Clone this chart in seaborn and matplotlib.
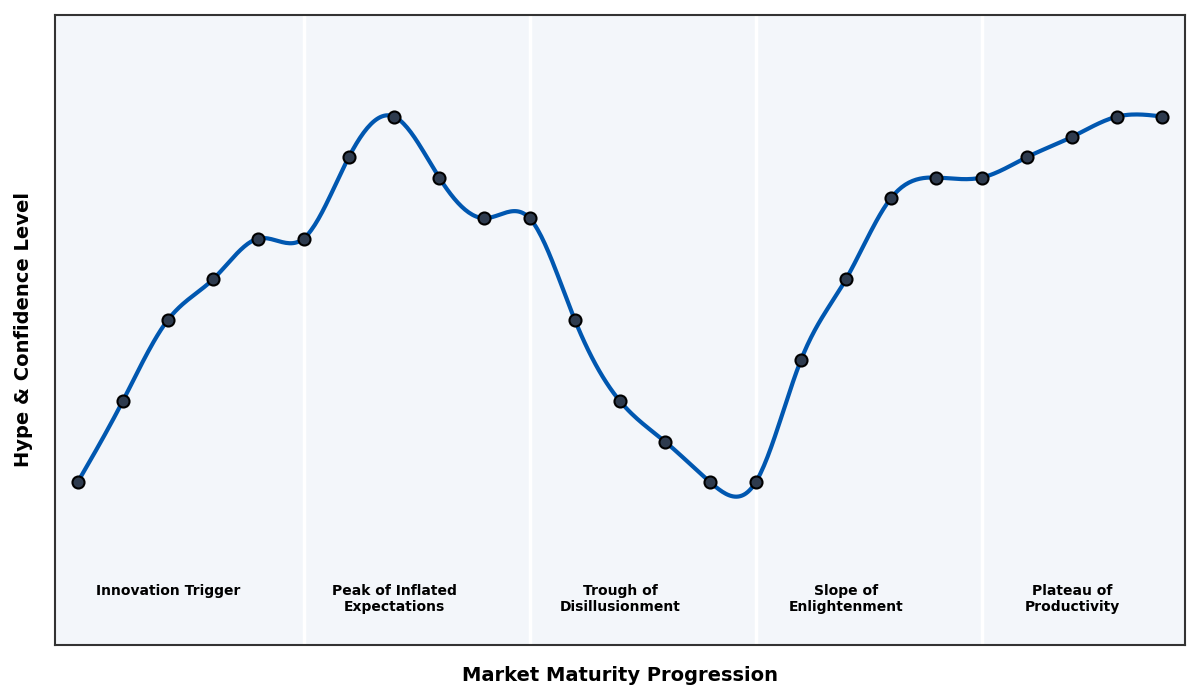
import matplotlib
matplotlib.use("Agg")
import matplotlib.pyplot as plt
import numpy as np
import pandas as pd
import seaborn as sns

# hype cycle readings, one per step of market maturity
steps = list(range(25))
hype = [20, 40, 60, 70, 80, 80, 100, 110, 95, 85, 85, 60, 40, 30, 20,
        20, 50, 70, 90, 95, 95, 100, 105, 110, 110]
phase_bounds = [5, 10, 15, 20]
phase_centers = [2, 7, 12, 17, 22]
phase_names = ["Innovation Trigger", "Peak of Inflated\nExpectations",
               "Trough of\nDisillusionment", "Slope of\nEnlightenment",
               "Plateau of\nProductivity"]


def natural_spline(x, y, xs):
    # plain natural cubic spline, no scipy here
    x = np.asarray(x, float)
    y = np.asarray(y, float)
    n = len(x)
    h = np.diff(x)
    A = np.zeros((n, n))
    b = np.zeros(n)
    A[0, 0] = 1
    A[-1, -1] = 1
    for i in range(1, n - 1):
        A[i, i - 1] = h[i - 1]
        A[i, i] = 2 * (h[i - 1] + h[i])
        A[i, i + 1] = h[i]
        b[i] = 3 * ((y[i + 1] - y[i]) / h[i] - (y[i] - y[i - 1]) / h[i - 1])
    c = np.linalg.solve(A, b)
    out = np.empty_like(xs)
    for k, t in enumerate(xs):
        i = min(max(np.searchsorted(x, t) - 1, 0), n - 2)
        d = (c[i + 1] - c[i]) / (3 * h[i])
        bb = (y[i + 1] - y[i]) / h[i] - h[i] * (2 * c[i] + c[i + 1]) / 3
        dt = t - x[i]
        out[k] = y[i] + bb * dt + c[i] * dt ** 2 + d * dt ** 3
    return out


df = pd.DataFrame({"step": steps, "hype": hype})
xs = np.linspace(steps[0], steps[-1], 600)
smooth = pd.DataFrame({"step": xs, "hype": natural_spline(steps, hype, xs)})

sns.set_style("white", {"axes.facecolor": "#f3f6fa", "axes.edgecolor": "#333333"})
fig, ax = plt.subplots(figsize=(12, 7), dpi=100)
fig.subplots_adjust(left=0.0458, right=0.9875, top=0.9786, bottom=0.0786)

for b in phase_bounds:
    ax.axvline(b, color="white", lw=2.5, zorder=1)

sns.lineplot(data=smooth, x="step", y="hype", ax=ax, color="#0057b0", lw=3, zorder=3)
sns.scatterplot(data=df, x="step", y="hype", ax=ax, color="#2e3b4e", edgecolor="black",
                linewidth=1.5, s=75, zorder=4)

for c, name in zip(phase_centers, phase_names):
    ax.text(c, -5, name, ha="center", va="top", fontsize=10, fontweight="bold",
            color="black")

ax.set_xlim(-0.5, 24.5)
ax.set_ylim(-20, 135)
ax.set_xticks([])
ax.set_yticks([])
for s in ax.spines.values():
    s.set_linewidth(1.5)
ax.set_xlabel("Market Maturity Progression", fontsize=14, fontweight="bold",
              labelpad=15, color="black")
ax.set_ylabel("Hype & Confidence Level", fontsize=14, fontweight="bold",
              labelpad=16, color="black")

plt.savefig("out.png", dpi=100)
